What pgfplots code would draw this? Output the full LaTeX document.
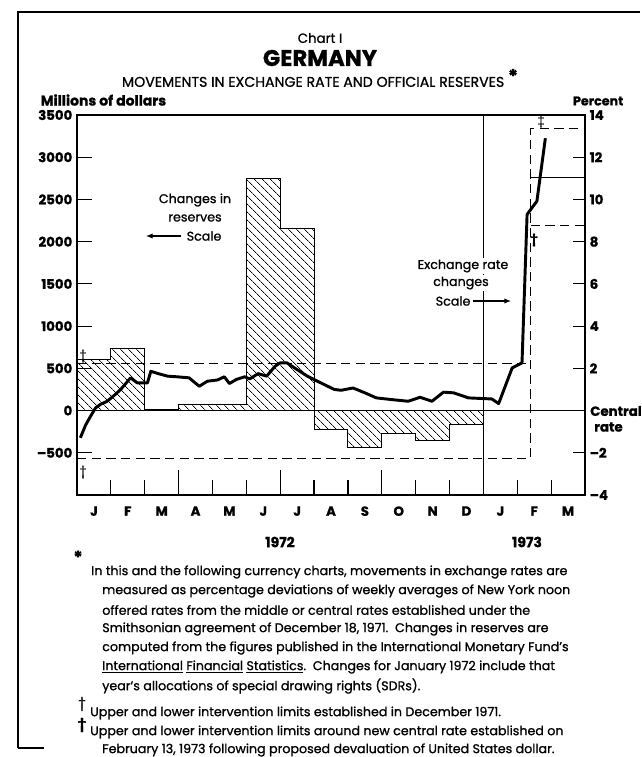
\documentclass[border=0pt]{standalone}
\usepackage{pgfplots}
\pgfplotsset{compat=1.18}
\usepackage{fontspec}
\setmainfont{Poppins}[FakeBold=1.0]
\usetikzlibrary{patterns,patterns.meta,arrows.meta}
\newcommand{\fs}[1]{\fontsize{#1}{#1}\selectfont}
\begin{document}
\begin{tikzpicture}
\begin{scope}[x=0.75pt,y=-0.75pt]
\path[use as bounding box] (0,0) rectangle (640,757);
\end{scope}
% ---------- left axis: changes in reserves ----------
\begin{axis}[
  at={(57.75pt,-86.25pt)}, anchor=north west,
  scale only axis, width=381pt, height=285pt,
  xmin=0, xmax=15, ymin=-1000, ymax=3500,
  axis line style={line width=1pt},
  tick align=inside, major tick length=11pt,
  xtick={1,2,4,5,7,8,10,11,13,14}, xticklabels={},
  extra x ticks={3,6,9}, extra x tick labels={},
  extra x tick style={major tick length=18.75pt},
  xtick pos=bottom, ytick pos=left,
  ytick={-500,0,500,1000,1500,2000,2500,3000,3500},
  yticklabels={–500,0,500,1000,1500,2000,2500,3000,3500},
  yticklabel style={font=\bfseries\fs{10}},
  /pgf/number format/assume math mode=true,
  every tick/.style={black, line width=0.9pt},
  clip=false
]
\addplot[draw=black, line width=0.8pt, pattern={Lines[angle=-45,distance=4pt,line width=0.55pt]}] coordinates {
  (0,0)(0,600)(1,600)(1,740)(2,740)(2,10)(3,10)(3,70)(5,70)(5,2750)(6,2750)(6,2160)(7,2160)
  (7,-220)(8,-220)(8,-440)(9,-440)(9,-270)(10,-270)(10,-350)(11,-350)(11,-165)(12,-165)(12,0)} -- cycle;
\addplot[black, line width=0.9pt] coordinates {(0,0)(15,0)};
\addplot[black, line width=0.9pt] coordinates {(12,-1000)(12,3500)};
\end{axis}
% ---------- right axis: exchange rate, percent ----------
\begin{axis}[
  at={(57.75pt,-86.25pt)}, anchor=north west,
  scale only axis, width=381pt, height=285pt,
  xmin=0, xmax=15, ymin=-4, ymax=14,
  axis x line=none, axis y line*=right,
  axis line style={line width=1pt},
  tick align=inside, major tick length=9pt,
  ytick pos=right,
  ytick={-4,-2,2,4,6,8,10,12,14},
  yticklabels={–4,–2,2,4,6,8,10,12,14},
  yticklabel style={font=\bfseries\fs{10}},
  /pgf/number format/assume math mode=true,
  every tick/.style={black, line width=0.9pt},
  clip=false
]
% intervention limits
\addplot[black, line width=0.8pt, dash pattern=on 7pt off 4pt] coordinates {(0,2.25)(13.4,2.25)};
\addplot[black, line width=0.8pt, dash pattern=on 7pt off 4pt] coordinates {(0,-2.25)(13.4,-2.25)(13.4,13.35)(15,13.35)};
\addplot[black, line width=0.8pt, dash pattern=on 7pt off 4pt] coordinates {(13.4,8.75)(15,8.75)};
\addplot[black, line width=0.9pt] coordinates {(13.4,11.05)(15,11.05)};
% exchange rate
\addplot[black, line width=2.2pt, line join=round] coordinates {
(0.1,-1.29)(0.25,-0.7)(0.4,-0.27)(0.55,0.13)(0.7,0.3)(0.89,0.44)(1.1,0.72)(1.29,1.0)
(1.45,1.3)(1.58,1.55)(1.78,1.31)(2.08,1.31)(2.18,1.86)(2.4,1.75)(2.67,1.63)(2.95,1.6)
(3.31,1.55)(3.61,1.15)(3.85,1.39)(4.15,1.45)(4.35,1.6)(4.5,1.28)(4.7,1.47)(4.95,1.6)
(5.1,1.5)(5.35,1.75)(5.6,1.63)(5.85,2.1)(6.0,2.26)(6.2,2.26)(6.5,1.94)(6.8,1.63)
(7.0,1.47)(7.3,1.23)(7.6,1.0)(7.8,0.96)(8.15,1.07)(8.5,0.84)(8.84,0.6)(9.29,0.52)
(9.78,0.44)(10.13,0.63)(10.48,0.44)(10.82,0.87)(11.12,0.84)(11.56,0.6)(11.96,0.57)
(12.25,0.55)(12.45,0.33)(12.85,2.02)(13.14,2.26)(13.29,9.29)(13.58,9.92)(13.83,12.9)};
\end{axis}
% ---------- month labels ----------
\begin{axis}[
  at={(57.75pt,-86.25pt)}, anchor=north west,
  scale only axis, width=381pt, height=285pt,
  xmin=0, xmax=15, ymin=0, ymax=1,
  axis y line=none, axis x line*=bottom, axis line style={draw=none},
  major tick length=0pt,
  xtick={0.5,1.5,2.5,3.5,4.5,5.5,6.5,7.5,8.5,9.5,10.5,11.5,12.5,13.5,14.5},
  xticklabels={J,F,M,A,M,J,J,A,S,O,N,D,J,F,M},
  xticklabel style={font=\bfseries\fs{10}, yshift=-5pt},
]
\addplot[draw=none] coordinates {(0,0)(15,1)};
\end{axis}
% ---------- text and frame ----------
\begin{scope}[x=0.75pt,y=-0.75pt]
\draw[line width=1.5pt] (18,748) -- (18,12) -- (640,12);
\draw[line width=1pt] (18,748) -- (44,748);
\node at (320,38) {\fs{10}Chart I};
\node at (320,58) {\bfseries\fs{17}GERMANY};
\node at (320,78) {\fs{10.6}MOVEMENTS IN EXCHANGE RATE AND OFFICIAL RESERVES \raisebox{3pt}{\bfseries\fs{14}*}};
\node[anchor=west] at (36,100) {\bfseries\fs{10.5}Millions of dollars};
\node[anchor=east] at (628,101) {\bfseries\fs{9.5}Percent};
\node[anchor=west, inner sep=0pt] at (590,411) {\bfseries\fs{10}Central};
\node[anchor=west, inner sep=0pt] at (594,427) {\bfseries\fs{10}rate};
\node at (280,542) {\bfseries\fs{10.5}1972};
\node at (527,542) {\bfseries\fs{10.5}1973};
% annotations
\node at (195,200) {\fs{9.5}Changes in};
\node at (195,218) {\fs{9.5}reserves};
\node[anchor=west] at (182,236) {\fs{9.5}Scale};
\draw[line width=0.8pt, -{Latex[length=5pt,width=4pt]}] (181,236) -- (146,236);
\node[fill=white, inner sep=1pt] at (463,266) {\fs{9.5}Exchange rate};
\node[fill=white, inner sep=1pt] at (461,283) {\fs{9.5}changes};
\node[anchor=east, fill=white, inner sep=1pt] at (472,301) {\fs{9.5}Scale};
\draw[line width=0.8pt, -{Latex[length=5pt,width=4pt]}] (473,301) -- (511,301);
% limit markers
\node at (83,356) {\fs{9}†};
\node at (83,472) {\fs{9}†};
\node at (541,121) {\fs{9}‡};
\node at (534,240) {\bfseries\fs{9}†};
% footnotes
\node at (78,557) {\bfseries\fs{13}*};
\node[anchor=west, inner sep=0pt] at (91,572) {\fs{9.5}In this and the following currency charts, movements in exchange rates are};
\node[anchor=west, inner sep=0pt] at (102,591) {\fs{9.5}measured as percentage deviations of weekly averages of New York noon};
\node[anchor=west, inner sep=0pt] at (102,610) {\fs{9.5}offered rates from the middle or central rates established under the};
\node[anchor=west, inner sep=0pt] at (102,629) {\fs{9.5}Smithsonian agreement of December 18, 1971.\ \ Changes in reserves are};
\node[anchor=west, inner sep=0pt] at (102,648) {\fs{9.5}computed from the figures published in the International Monetary Fund's};
\node[anchor=west, inner sep=0pt] at (102,667) {\fs{9.5}\underline{International} \underline{Financial} \underline{Statistics}.\ \ Changes for January 1972 include that};
\node[anchor=west, inner sep=0pt] at (102,686) {\fs{9.5}year's allocations of special drawing rights (SDRs).};
\node at (82,704) {\fs{10}†};
\node[anchor=west, inner sep=0pt] at (90,713) {\fs{9.5}Upper and lower intervention limits established in December 1971.};
\node at (82,725) {\bfseries\fs{10}†};
\node[anchor=west, inner sep=0pt] at (90,732) {\fs{9.5}Upper and lower intervention limits around new central rate established on};
\node[anchor=west, inner sep=0pt] at (102,750) {\fs{9.5}February 13, 1973 following proposed devaluation of United States dollar.};
\end{scope}
\end{tikzpicture}
\end{document}
